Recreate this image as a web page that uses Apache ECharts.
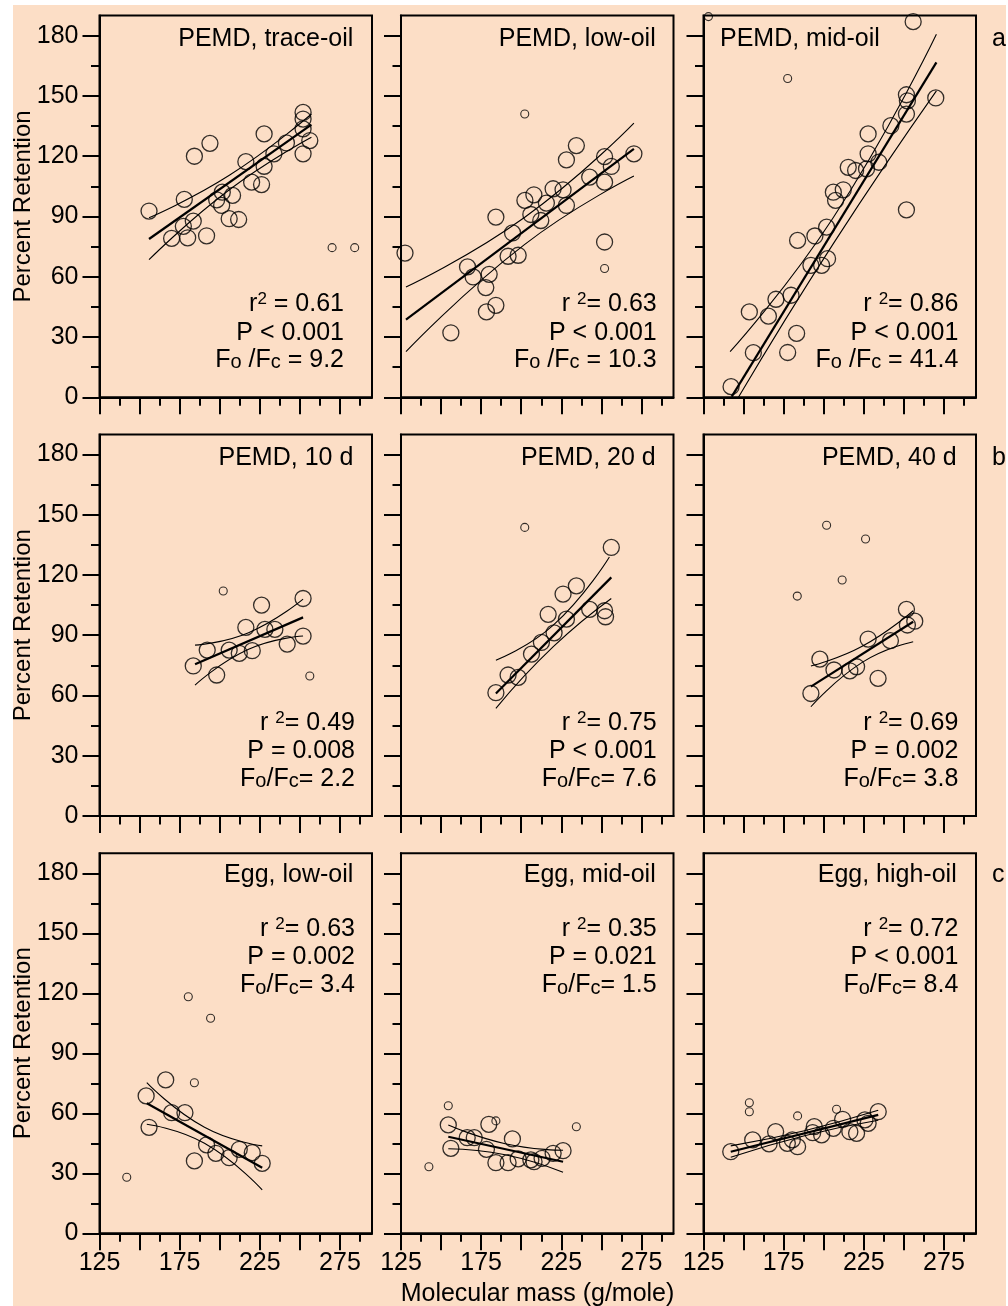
<!DOCTYPE html>
<html><head><meta charset="utf-8">
<script src="https://cdn.jsdelivr.net/npm/echarts@6/dist/echarts.min.js"></script>
<style>
html,body{margin:0;padding:0;background:#fff;}
#bg{position:absolute;left:13px;top:5px;width:993px;height:1301px;background:#fcdec6;}
#chart{position:absolute;left:0;top:0;width:1008px;height:1306px;}
</style></head><body><div id="bg"></div><div id="chart"></div>
<script>
// ---- axis ticks / labels ----
const xTicksMajor = [125,150,175,200,225,250,275];
const xTicksMinor = [137.5,162.5,187.5,212.5,237.5,262.5,287.5];
const xTickLabels = [125,175,225,275];
const yTicksMajor = [0,30,60,90,120,150,180];
const yTicksMinor = [15,45,75,105,135,165];
const xRange = [125,295];
const yRange = [0,190];

// ---- panel titles and statistics ----
const panelTitles = ['PEMD, trace-oil','PEMD, low-oil','PEMD, mid-oil','PEMD, 10 d','PEMD, 20 d','PEMD, 40 d','Egg, low-oil','Egg, mid-oil','Egg, high-oil'];
const r2Values = ['0.61','0.63','0.86','0.49','0.75','0.69','0.63','0.35','0.72'];
const pValues = ['< 0.001','< 0.001','< 0.001','= 0.008','< 0.001','= 0.002','= 0.002','= 0.021','< 0.001'];
const ratioValues = ['9.2','10.3','41.4','2.2','7.6','3.8','3.4','1.5','8.4'];
const rowLetters = ['a','b','c'];

// ---- PEMD, trace-oil ----
const p1Large = [[155.9,92.7],[170.0,79.1],[177.9,98.5],[184.2,120],[193.9,126.4],[177.3,85.1],[180.0,79.4],[183.5,87.7],[191.8,80.4],[198.1,98.3],[201.6,102.1],[201.2,95.5],[208.0,100.5],[205.9,88.9],[211.8,88.5],[216.3,117.3],[219.9,107.1],[226.1,105.9],[227.7,131.1],[227.7,115.0],[233.8,121.2],[241.6,126.6],[252.0,141.8],[252.0,138.5],[252.0,133.6],[252.0,121.2],[256.2,127.8]];
const p1Small = [[270.1,74.5],[284.2,74.5]];
const p1Fit = [[155.9,78.8],[257.2,135.7]];
const p1Upper = [[155.9,89.4],[206,110.5],[257.2,141]];
const p1Lower = [[155.9,68.5],[206,103.3],[257.2,129.5]];

// ---- PEMD, low-oil ----
const p2Large = [[127.5,71.8],[156.1,32.1],[166.5,64.9],[170.0,59.9],[177.9,54.6],[180.0,61.2],[178.3,42.5],[184.2,45.8],[184.2,89.7],[191.8,70.2],[198.1,70.7],[194.6,81.8],[202.3,98.0],[207.9,100.8],[206.0,91.0],[212.2,88.0],[215.7,96.7],[219.9,103.8],[226.1,103.3],[228.2,95.5],[228.2,118.2],[234.4,125.3],[242.7,109.6],[252.0,119.8],[256.2,114.9],[252.0,107.1],[252.0,77.3],[270.3,121.2]];
const p2Small = [[202.2,141.0],[252.0,64.1]];
const p2Fit = [[128.1,38.7],[270.3,123.6]];
const p2Upper = [[128.1,54.9],[202,89.5],[270.3,136.5]];
const p2Lower = [[128.1,22.7],[202,76],[270.3,110.1]];

// ---- PEMD, mid-oil ----
const p3Large = [[142.2,5.3],[156.1,22.2],[153.6,42.5],[165.5,40.4],[170.2,48.8],[177.5,22.3],[183.1,31.8],[179.6,50.8],[183.7,78.1],[192.0,65.7],[194.5,80.3],[198.7,65.7],[202.4,69.0],[201.8,84.7],[206.0,102.1],[207.4,98.0],[212.2,103.3],[215.3,114.5],[219.9,112.9],[226.7,113.7],[227.7,121.2],[227.7,131.1],[234.4,117.0],[241.9,135.2],[251.6,150.6],[252.2,147.6],[251.6,141.0],[251.6,93.3],[269.9,149.0],[255.8,187.0]];
const p3Small = [[177.5,158.7],[128.1,189.5]];
const p3Fit = [[142.6,0.3],[270.3,166.7]];
const p3Upper = [[141.6,22.7],[206,89.5],[270.3,180.7]];
const p3Lower = [[146.8,0],[206,76.5],[270.3,152.5]];

// ---- PEMD, 10 d ----
const p4Large = [[183.5,74.7],[192.2,82.6],[198.1,70.2],[205.9,82.6],[212.2,81.0],[216.3,93.9],[220.3,82.3],[226.1,105.0],[228.2,92.9],[234.4,92.9],[242.1,85.6],[252.0,108.3],[252.0,89.6]];
const p4Small = [[202.2,112.0],[256.2,69.7]];
const p4Fit = [[184.6,75.5],[252,98.9]];
const p4Upper = [[184.6,85.1],[218,91.3],[252,108]];
const p4Lower = [[184.6,65.2],[218,83],[252,89.6]];

// ---- PEMD, 20 d ----
const p5Large = [[184.2,61.4],[191.8,70.2],[198.1,69.0],[206.4,80.6],[212.6,86.4],[216.8,100.4],[220.5,91.2],[228.2,98.0],[226.1,110.5],[234.4,114.6],[242.7,102.9],[252.0,102.2],[252.6,99.2],[256.2,133.7]];
const p5Small = [[202.2,143.7]];
const p5Fit = [[184.2,61.0],[256.2,118.8]];
const p5Upper = [[184.2,77.6],[220,95],[255,129]];
const p5Lower = [[184.2,53.6],[220,84.3],[256.2,108.3]];

// ---- PEMD, 40 d ----
const p6Large = [[192.0,61.0],[197.6,78.1],[206.4,72.7],[216.3,72.3],[220.5,74.3],[227.7,88.1],[233.9,68.5],[241.6,87.3],[251.6,102.9],[252.2,95.1],[256.8,97.0]];
const p6Small = [[201.8,144.8],[226.1,137.9],[211.5,117.5],[183.5,109.5]];
const p6Fit = [[192,64.4],[255.8,96.7]];
const p6Upper = [[192,74.7],[224,84.5],[255.8,102.2]];
const p6Lower = [[192,54.4],[224,76.5],[255.8,86.8]];

// ---- Egg, low-oil ----
const p7Large = [[154.1,68.7],[155.9,53.0],[166.3,76.7],[170.0,60.3],[178.3,60.3],[184.2,36.2],[191.8,44.2],[197.6,40.0],[205.9,37.8],[212.2,42.0],[220.3,40.3],[226.5,35.0]];
const p7Small = [[142.0,28.0],[180.4,118.3],[194.3,107.5],[184.2,75.3]];
const p7Fit = [[154.5,65],[226.5,32.8]];
const p7Upper = [[154.5,75.3],[190.5,53],[226.5,43.7]];
const p7Lower = [[154.5,54.5],[190.5,45],[226.5,21.7]];

// ---- Egg, mid-oil ----
const p8Large = [[154.5,54.2],[156.1,42.5],[166.3,47.8],[170.7,47.8],[179.8,54.5],[178.3,42.0],[184.2,35.3],[191.8,35.3],[194.5,47.2],[198.1,37.2],[206.0,36.7],[208.0,35.8],[213.0,37.5],[219.9,40.0],[226.1,41.3]];
const p8Small = [[142.4,33.3],[154.5,63.8],[184.2,56.2],[234.4,53.3]];
const p8Fit = [[154.5,48.3],[226.1,35.8]];
const p8Upper = [[154.5,54.2],[190,44.8],[226.1,41.5]];
const p8Lower = [[154.5,42.3],[190,39.3],[226.1,30.5]];

// ---- Egg, high-oil ----
const p9Large = [[142.0,40.8],[155.7,46.7],[165.9,44.7],[170.0,50.8],[177.3,45.0],[180.4,46.7],[183.7,43.3],[193.1,50.3],[194.1,53.3],[198.7,49.2],[206.0,52.5],[211.8,57.0],[216.3,50.8],[220.5,50.0],[225.7,56.7],[227.7,55.0],[234.0,60.8]];
const p9Small = [[153.6,65.3],[153.6,60.8],[183.7,58.7],[208.0,62.0]];
const p9Fit = [[142,40.8],[234,59.2]];
const p9Upper = [[142,43.7],[188,51.3],[234,61.5]];
const p9Lower = [[142,38],[188,48.8],[234,56.5]];

const panelLarge = [p1Large,p2Large,p3Large,p4Large,p5Large,p6Large,p7Large,p8Large,p9Large];
const panelSmall = [p1Small,p2Small,p3Small,p4Small,p5Small,p6Small,p7Small,p8Small,p9Small];
const panelFit = [p1Fit,p2Fit,p3Fit,p4Fit,p5Fit,p6Fit,p7Fit,p8Fit,p9Fit];
const panelUpper = [p1Upper,p2Upper,p3Upper,p4Upper,p5Upper,p6Upper,p7Upper,p8Upper,p9Upper];
const panelLower = [p1Lower,p2Lower,p3Lower,p4Lower,p5Lower,p6Lower,p7Lower,p8Lower,p9Lower];

// ---- layout ----
const FONT = '"Liberation Sans", Arial, Helvetica, sans-serif';
const FS = 25;
const colLeft = [99.5, 401, 703.5];
const rowTop = [15.6, 434.4, 853.3];
const rowH = [381.7, 381.6, 380];
const gridW = 272.5;
const titleBase = [46.7, 465.7, 883.3];
const titleX = [[353.3,655.7,720],[353.3,655.7,956.7],[353.3,655.7,956.7]];
const titleAlign = [['right','right','left'],['right','right','right'],['right','right','right']];
const statsRight = [[344,656.7,958.3],[355,656.7,958.3],[355,656.7,958.3]];
const statsBase = [[311.7,340.7,367.7],[730.7,759.3,786.7],[936.7,965,993.3]];

const BLACK = '#000';
const rich = {
  sup:{fontSize:17, fontFamily:FONT, fill:BLACK, lineHeight:20, verticalAlign:'top'},
  sub:{fontSize:20, fontFamily:FONT, fill:BLACK, lineHeight:5, verticalAlign:'bottom'}
};
function txt(x, baseline, text, align, extra) {
  return Object.assign({type:'text', x:x, y:baseline - 0.31 * FS, silent:true, z:50,
    style:{text:text, fontSize:FS, fontFamily:FONT, fill:BLACK, align:align, verticalAlign:'middle', lineHeight:26, rich:rich}}, extra || {});
}

const grids = [], xAxes = [], yAxes = [], series = [], graphics = [];
for (let i = 0; i < 9; i++) {
  const r = Math.floor(i / 3), c = i % 3;
  grids.push({left:colLeft[c], top:rowTop[r], width:gridW, height:rowH[r], show:true,
    borderColor:BLACK, borderWidth:2, backgroundColor:'transparent', containLabel:false, outerBoundsMode:'none'});
  const lineSt = {color:BLACK, width:2};
  xAxes.push({gridIndex:i, type:'value', min:xRange[0], max:xRange[1], position:'bottom',
    axisLine:{show:true, onZero:false, lineStyle:lineSt},
    axisTick:{show:true, inside:false, length:17, customValues:xTicksMajor, lineStyle:lineSt},
    axisLabel:{show:r === 2, customValues:xTickLabels, margin:17, color:BLACK, fontSize:FS, fontFamily:FONT},
    splitLine:{show:false}});
  xAxes.push({gridIndex:i, type:'value', min:xRange[0], max:xRange[1], position:'bottom', offset:0,
    axisLine:{show:false, onZero:false},
    axisTick:{show:true, inside:false, length:8.5, customValues:xTicksMinor, lineStyle:lineSt},
    axisLabel:{show:false}, splitLine:{show:false}});
  yAxes.push({gridIndex:i, type:'value', min:yRange[0], max:yRange[1], position:'left',
    axisLine:{show:true, onZero:false, lineStyle:lineSt},
    axisTick:{show:true, inside:false, length:17, customValues:yTicksMajor, lineStyle:lineSt},
    axisLabel:{show:c === 0, customValues:yTicksMajor, margin:21, color:BLACK, fontSize:FS, fontFamily:FONT},
    splitLine:{show:false}});
  yAxes.push({gridIndex:i, type:'value', min:yRange[0], max:yRange[1], position:'left', offset:0,
    axisLine:{show:false, onZero:false},
    axisTick:{show:true, inside:false, length:8.5, customValues:yTicksMinor, lineStyle:lineSt},
    axisLabel:{show:false}, splitLine:{show:false}});

  const ax = {xAxisIndex:2 * i, yAxisIndex:2 * i, silent:true, animation:false};
  series.push(Object.assign({type:'scatter', data:panelLarge[i], symbol:'circle', symbolSize:16, clip:false, z:3,
    itemStyle:{color:'rgba(0,0,0,0)', borderColor:BLACK, borderWidth:1.3}}, ax));
  series.push(Object.assign({type:'scatter', data:panelSmall[i], symbol:'circle', symbolSize:8, clip:false, z:3,
    itemStyle:{color:'rgba(0,0,0,0)', borderColor:BLACK, borderWidth:1.1}}, ax));
  series.push(Object.assign({type:'line', data:panelFit[i], symbol:'none', clip:false, z:4,
    lineStyle:{color:BLACK, width:2.2}}, ax));
  series.push(Object.assign({type:'line', data:panelUpper[i], symbol:'none', smooth:true, clip:false, z:4,
    lineStyle:{color:BLACK, width:1.1}}, ax));
  series.push(Object.assign({type:'line', data:panelLower[i], symbol:'none', smooth:true, clip:false, z:4,
    lineStyle:{color:BLACK, width:1.1}}, ax));

  // panel title
  graphics.push(txt(titleX[r][c], titleBase[r], panelTitles[i], titleAlign[r][c]));
  // statistics
  const r2 = (i === 0) ? 'r{sup|2} = ' + r2Values[i] : 'r {sup|2}= ' + r2Values[i];
  const fr = (r === 0) ? 'F{sub|o} /F{sub|c} = ' + ratioValues[i] : 'F{sub|o}/F{sub|c}= ' + ratioValues[i];
  graphics.push(txt(statsRight[r][c], statsBase[r][0], r2, 'right'));
  graphics.push(txt(statsRight[r][c], statsBase[r][1], 'P ' + pValues[i], 'right'));
  graphics.push(txt(statsRight[r][c], statsBase[r][2], fr, 'right'));
}
for (let r = 0; r < 3; r++) {
  graphics.push(txt(992, titleBase[r], rowLetters[r], 'left'));
  graphics.push({type:'text', x:23, y:rowTop[r] + rowH[r] / 2, rotation:Math.PI / 2, silent:true, z:50,
    style:{text:'Percent Retention', fontSize:24, fontFamily:FONT, fill:BLACK, align:'center', verticalAlign:'middle'}});
}
graphics.push(txt(537.5, 1301.7, 'Molecular mass (g/mole)', 'center'));

const chart = echarts.init(document.getElementById('chart'), null, {renderer:'canvas'});
chart.setOption({
  backgroundColor:'transparent',
  animation:false,
  grid:grids, xAxis:xAxes, yAxis:yAxes, series:series,
  graphic:{elements:graphics}
});
</script></body></html>
